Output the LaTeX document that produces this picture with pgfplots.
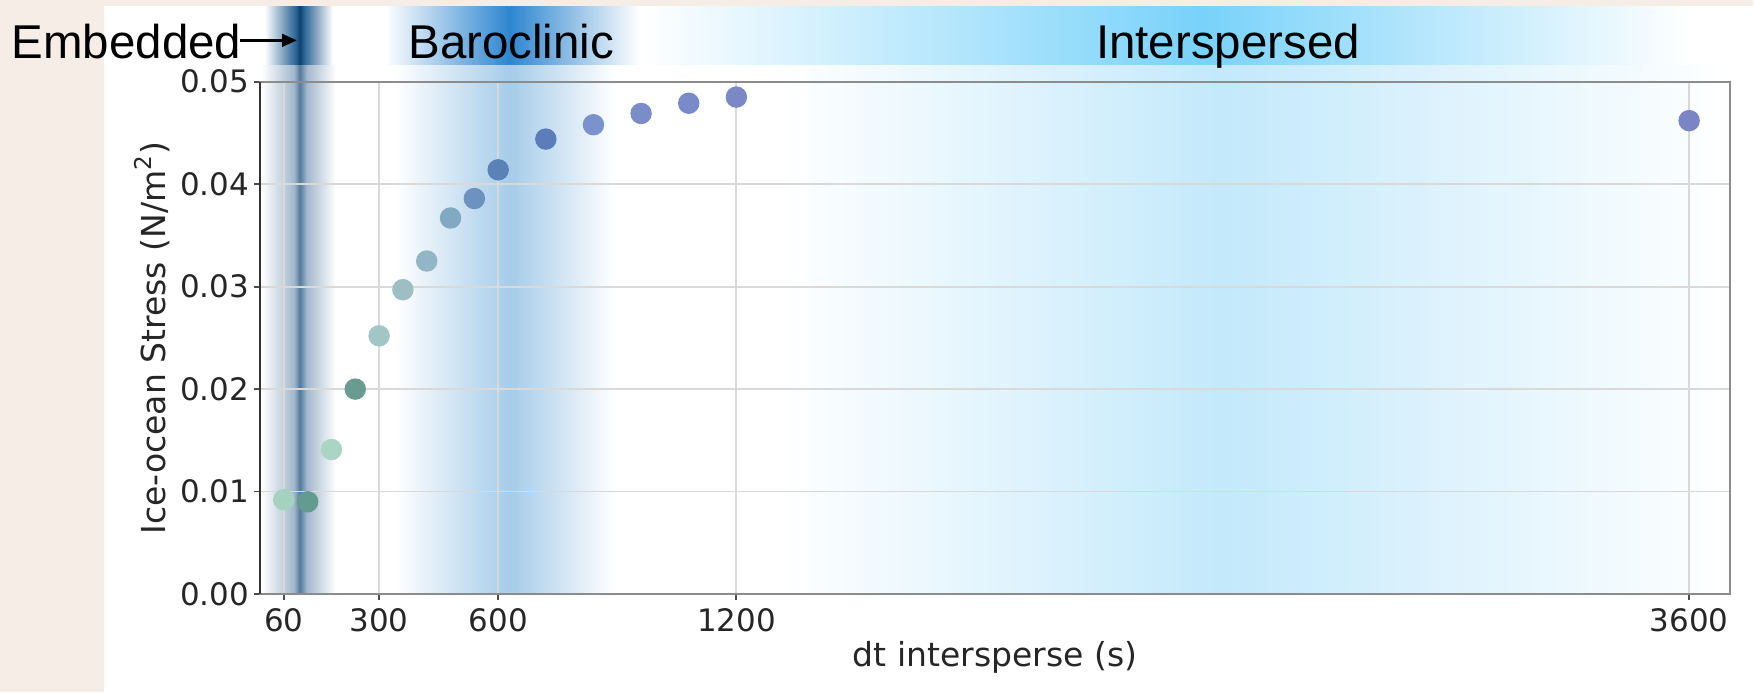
\documentclass[border=0pt]{standalone}
\usepackage{fontspec}
\setmainfont{DejaVu Sans}
\newfontfamily\arialf{Liberation Sans}
\usepackage{pgfplots}
\pgfplotsset{compat=1.18}
\usetikzlibrary{arrows.meta}

\definecolor{beige}{HTML}{F6EDE6}
\definecolor{embP}{HTML}{A3B8CC}
\definecolor{embPc}{HTML}{557A9D}
\definecolor{embT}{HTML}{2A6494}
\definecolor{embTc}{HTML}{0E416F}
\definecolor{baroP}{HTML}{A8CDEA}
\definecolor{baroT}{HTML}{2E86D0}
\definecolor{intP}{HTML}{C3E9FB}
\definecolor{intT}{HTML}{78D2FA}

\definecolor{c1}{RGB}{165,210,190}
\definecolor{c2}{RGB}{100,155,145}
\definecolor{c3}{RGB}{170,212,196}
\definecolor{c4}{RGB}{105,155,145}
\definecolor{c5}{RGB}{162,198,198}
\definecolor{c6}{RGB}{157,191,196}
\definecolor{c7}{RGB}{147,182,198}
\definecolor{c8}{RGB}{130,168,194}
\definecolor{c9}{RGB}{110,146,192}
\definecolor{c10}{RGB}{91,130,182}
\definecolor{c11}{RGB}{93,124,186}
\definecolor{c12}{RGB}{122,147,204}
\definecolor{c13}{RGB}{123,141,201}
\definecolor{c14}{RGB}{122,137,200}
\definecolor{c15}{RGB}{122,136,198}
\definecolor{c16}{RGB}{123,132,196}

\begin{document}
\begin{tikzpicture}
\begin{scope}[x=0.01cm,y=0.01cm]
\fill[beige] (0,0) rectangle (1754,692);
\fill[white] (104,0) rectangle (1754,686);
% gradients in plot area
\shade[left color=white,right color=intP] (780,98) rectangle (1222,628);
\shade[left color=intP,right color=white] (1222,98) rectangle (1730,628);
\shade[left color=white,right color=baroP] (395,98) rectangle (508,628);
\fill[baroP] (508,98) rectangle (514,628);
\shade[left color=baroP,right color=white] (514,98) rectangle (615,628);
\shade[left color=white,right color=embP] (262,98) rectangle (294,628);
\shade[left color=embP,right color=embPc] (294,98) rectangle (300,628);
\shade[left color=embPc,right color=embP] (300,98) rectangle (307,628);
\shade[left color=embP,right color=white] (307,98) rectangle (336,628);
% title band
\shade[left color=white,right color=baroT] (385,628) rectangle (510,686);
\shade[left color=baroT,right color=white] (510,628) rectangle (640,686);
\shade[left color=white,right color=intT] (640,628) rectangle (1203,686);
\shade[left color=intT,right color=white] (1203,628) rectangle (1690,686);
\shade[left color=white,right color=embT] (265,628) rectangle (296,686);
\shade[left color=embT,right color=embTc] (296,628) rectangle (300,686);
\shade[left color=embTc,right color=embT] (300,628) rectangle (304,686);
\shade[left color=embT,right color=white] (304,628) rectangle (333,686);
% titles
\node[anchor=base west,font=\arialf\fontsize{13.5}{15}\selectfont,inner sep=0] at (11,634) {Embedded};
\draw[-{Triangle[length=4.2pt,width=3.6pt]},line width=0.7pt] (240,652) -- (297,652);
\node[anchor=base west,font=\arialf\fontsize{13.5}{15}\selectfont,inner sep=0] at (408,634) {Baroclinic};
\node[anchor=base west,font=\arialf\fontsize{13.5}{15}\selectfont,inner sep=0] at (1096,634) {Interspersed};
\end{scope}
\begin{axis}[
  at={(2.6cm,0.98cm)},anchor=south west,
  scale only axis, width=14.70cm, height=5.123cm,
  xmin=0, xmax=3703, ymin=0, ymax=0.05,
  xtick={60,300,600,1200,3600},
  ytick={0,0.01,0.02,0.03,0.04,0.05},
  tick pos=left,
  scaled y ticks=false,
  yticklabel style={xshift=2.2pt,/pgf/number format/.cd,fixed,fixed zerofill,precision=2},
  xticklabel style={yshift=1.3pt,/pgf/number format/1000 sep={}},
  /pgf/number format/assume math mode=true,
  ticklabel style={font=\fontsize{8.8}{10}\selectfont, text=black!85},
  label style={font=\fontsize{9.4}{11}\selectfont, text=black!85},
  xlabel={dt intersperse (s)},
  ylabel={Ice-ocean Stress (N/m\textsuperscript{2})},
  xlabel style={at={(axis description cs:0.5,-0.123)},anchor=center},
  ylabel style={at={(axis description cs:-0.0735,0.5)},anchor=center},
  grid=major, major grid style={black!15,line width=0.5pt},
  tick align=outside, major tick length=1.8pt,
  tick style={black!70,line width=0.5pt},
  axis line style={black!45,line width=0.6pt},
  clip=false,
  every axis plot/.append style={only marks, mark=*, mark size=2.85pt},
]
\addplot[c1,mark options={fill=c1,draw=c1}] coordinates {(60,0.0092)};
\addplot[c2,mark options={fill=c2,draw=c2}] coordinates {(120,0.0090)};
\addplot[c3,mark options={fill=c3,draw=c3}] coordinates {(180,0.0141)};
\addplot[c4,mark options={fill=c4,draw=c4}] coordinates {(240,0.0200)};
\addplot[c5,mark options={fill=c5,draw=c5}] coordinates {(300,0.0252)};
\addplot[c6,mark options={fill=c6,draw=c6}] coordinates {(360,0.0297)};
\addplot[c7,mark options={fill=c7,draw=c7}] coordinates {(420,0.0325)};
\addplot[c8,mark options={fill=c8,draw=c8}] coordinates {(480,0.0367)};
\addplot[c9,mark options={fill=c9,draw=c9}] coordinates {(540,0.0386)};
\addplot[c10,mark options={fill=c10,draw=c10}] coordinates {(600,0.0414)};
\addplot[c11,mark options={fill=c11,draw=c11}] coordinates {(720,0.0444)};
\addplot[c12,mark options={fill=c12,draw=c12}] coordinates {(840,0.0458)};
\addplot[c13,mark options={fill=c13,draw=c13}] coordinates {(960,0.0469)};
\addplot[c14,mark options={fill=c14,draw=c14}] coordinates {(1080,0.0479)};
\addplot[c15,mark options={fill=c15,draw=c15}] coordinates {(1200,0.0485)};
\addplot[c16,mark options={fill=c16,draw=c16}] coordinates {(3600,0.0462)};
\draw[black!80,line width=0.6pt] (rel axis cs:0,0) -- (rel axis cs:0,1);
\end{axis}
\pgfresetboundingbox
\path (0,0) rectangle (17.54cm,6.92cm);
\end{tikzpicture}
\end{document}
